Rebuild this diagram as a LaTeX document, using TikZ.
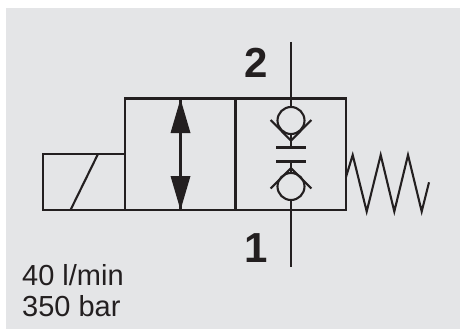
\documentclass[tikz,border=0pt]{standalone}
\usepackage{fontspec}
\setmainfont{Liberation Sans}
\definecolor{panel}{HTML}{E4E5E7}
\definecolor{ink}{HTML}{231F20}
\tikzset{
  x=1pt,y=-1pt,
  sym/.style={draw=ink,line width=2.1pt,line join=miter},
  head/.style={fill=ink,draw=none},
  portlabel/.style={inner sep=0pt,anchor=base,text=ink,font=\bfseries\fontsize{42}{42}\selectfont},
  spec/.style={inner sep=0pt,anchor=base west,text=ink,font=\fontsize{29}{29}\selectfont},
  ball/.style={circle,draw=ink,line width=2.1pt,minimum size=27pt,inner sep=0pt},
}
\begin{document}
\begin{tikzpicture}
\useasboundingbox (0,0) rectangle (460,329);
\fill[panel] (6,8) rectangle (460,329);
% solenoid and valve body
\draw[sym] (125,154) -- (43,154) -- (43,210) -- (125,210);
\draw[sym] (70.5,210) -- (98,154);
\draw[sym] (125,210) -- (125,98.5) -- (346,98.5) -- (346,210) -- cycle;
\draw[sym] (235.5,98.5) -- (235.5,210);
% double arrow
\coordinate (tipA) at (180.5,99);
\coordinate (tipB) at (180.5,210);
\draw[sym] (tipA) -- (tipB);
\fill[head] (tipA) -- (190.5,133) -- (170.5,133) -- cycle;
\fill[head] (tipB) -- (190.5,176) -- (170.5,176) -- cycle;
% check valves
\node[ball] (ballU) at (291,120.5) {};
\node[ball] (ballL) at (291,186.5) {};
\coordinate (portU) at (291,42);
\coordinate (portL) at (291,267);
\draw[sym] (portU) -- (ballU.north);
\draw[sym] (ballL.south) -- (portL);
\draw[sym] (270.7,120) -- (291,140.7) -- (311.3,120);
\draw[sym] (270.7,188.5) -- (291,168) -- (311.3,188.5);
\draw[sym] (291,134) -- (291,147.5);
\draw[sym] (291,161.5) -- (291,173);
\draw[sym] (276,147.5) -- (306,147.5);
\draw[sym] (276,161.5) -- (306,161.5);
% spring
\draw[sym] (346,177) -- (352.7,155) -- (366.7,211.5) -- (380.7,155) -- (394.3,211.5) -- (408,155) -- (421.7,211.5) -- (429,182.3);
% labels
\node[portlabel] (lab2) at (256.5,77.5) {2};
\node[portlabel] (lab1) at (256.5,262) {1};
\node[spec] (flow) at (22,285) {40 l/min};
\node[spec] (pres) at (22,316.5) {350 bar};
\end{tikzpicture}
\end{document}
